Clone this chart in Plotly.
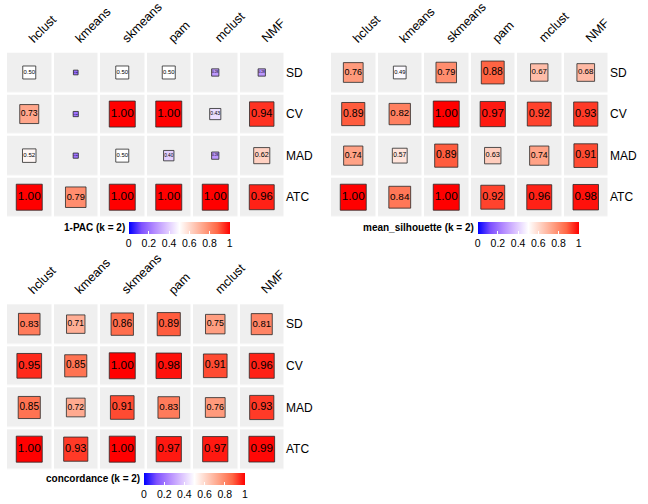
import plotly.graph_objects as go

methods = ["hclust", "kmeans", "skmeans", "pam", "mclust", "NMF"]
rows = ["SD", "CV", "MAD", "ATC"]

pac = [
    [0.50, 0.18, 0.50, 0.50, 0.28, 0.28],
    [0.73, 0.20, 1.00, 1.00, 0.43, 0.94],
    [0.52, 0.20, 0.50, 0.40, 0.28, 0.62],
    [1.00, 0.79, 1.00, 1.00, 1.00, 0.96],
]
silhouette = [
    [0.76, 0.49, 0.79, 0.88, 0.67, 0.68],
    [0.89, 0.82, 1.00, 0.97, 0.92, 0.93],
    [0.74, 0.57, 0.89, 0.63, 0.74, 0.91],
    [1.00, 0.84, 1.00, 0.92, 0.96, 0.98],
]
concordance = [
    [0.83, 0.71, 0.86, 0.89, 0.75, 0.81],
    [0.95, 0.85, 1.00, 0.98, 0.91, 0.96],
    [0.85, 0.72, 0.91, 0.83, 0.76, 0.93],
    [1.00, 0.93, 1.00, 0.97, 0.97, 0.99],
]
titles = ["1-PAC (k = 2)", "mean_silhouette (k = 2)", "concordance (k = 2)"]
cb_ticks = [0, 0.2, 0.4, 0.6, 0.8, 1]

W, H = 648, 504
FONT = "Liberation Sans, Arial, sans-serif"
# blue - white - red, interpolated in LAB space
colorscale = [
    [0.0, "rgb(0,0,255)"],
    [0.125, "rgb(126,81,255)"],
    [0.25, "rgb(179,138,255)"],
    [0.375, "rgb(220,196,255)"],
    [0.5, "rgb(255,255,255)"],
    [0.625, "rgb(255,207,191)"],
    [0.75, "rgb(255,158,129)"],
    [0.875, "rgb(255,104,70)"],
    [1.0, "rgb(255,0,0)"],
]

# panel geometry in pixels: (left, right, top, bottom, cbar_left, cbar_top)
panels = [
    (6, 285, 51.7, 218, 128.7, 221.7),
    (330, 609, 51.7, 218, 477.7, 221.7),
    (6, 285, 303.3, 470, 144, 472.7),
]

fig = go.Figure()
layout = {}
annotations = []
for i, (data, title, geo) in enumerate(zip([pac, silhouette, concordance], titles, panels)):
    l, r, t, b, cbl, cbt = geo
    sfx = "" if i == 0 else str(i + 1)
    xa, ya = "x" + sfx, "y" + sfx
    # background cells
    fig.add_trace(go.Heatmap(
        x=methods, y=rows, z=[[1] * len(methods) for _ in rows],
        colorscale=[[0, "#EFEFEF"], [1, "#EFEFEF"]], showscale=False,
        xgap=2.5, ygap=2.5, hoverinfo="skip", xaxis=xa, yaxis=ya,
    ))
    xs, ys, vs = [], [], []
    for ri, rname in enumerate(rows):
        for ci, m in enumerate(methods):
            xs.append(m)
            ys.append(rname)
            vs.append(data[ri][ci])
    fig.add_trace(go.Scatter(
        x=xs, y=ys, mode="markers+text",
        text=[f"{v:.2f}" for v in vs],
        textposition="middle center",
        textfont=dict(size=[max(11.8 * v, 1) for v in vs], color="black", family=FONT),
        marker=dict(
            symbol="square", size=[26 * v for v in vs], color=vs,
            cmin=0, cmax=1, colorscale=colorscale, opacity=1,
            line=dict(color="rgba(40,40,40,0.8)", width=1),
            showscale=True,
            colorbar=dict(
                orientation="h", x=cbl / W, xanchor="left",
                y=1 - cbt / H, yanchor="top", len=101, lenmode="pixels",
                thickness=12, thicknessmode="pixels", outlinewidth=0,
                tickvals=cb_ticks, ticktext=[f"{v:g}" for v in cb_ticks],
                ticks="inside", ticklen=3, tickcolor="white",
                tickfont=dict(size=10.5, color="black", family=FONT),
                xpad=0, ypad=0,
            ),
        ),
        hoverinfo="skip", showlegend=False, xaxis=xa, yaxis=ya,
    ))
    layout["xaxis" + sfx] = dict(
        domain=[l / W, r / W], anchor=ya, side="top", type="category",
        categoryorder="array", categoryarray=methods,
        range=[-0.5, 5.5], showgrid=False, zeroline=False,
        showline=False, ticks="", showticklabels=False,
    )
    layout["yaxis" + sfx] = dict(
        domain=[1 - b / H, 1 - t / H], anchor=xa, side="right", type="category",
        categoryorder="array", categoryarray=rows,
        range=[3.5, -0.5], showgrid=False, zeroline=False, showline=False,
        ticks="", tickfont=dict(size=12, color="black", family=FONT),
    )
    # rotated column labels, starting at each column centre
    for m in methods:
        annotations.append(dict(
            text=m, x=m, xref=xa, y=1 - (t - 3.5) / H, yref="paper",
            xanchor="left", yanchor="bottom", xshift=-6, textangle=-45,
            showarrow=False, font=dict(size=12.5, color="black", family=FONT),
        ))
    annotations.append(dict(
        text=f"<b>{title}</b>", x=(cbl - 2) / W, xanchor="right",
        y=1 - (cbt + 6) / H, yanchor="middle", xref="paper", yref="paper",
        showarrow=False, font=dict(size=10, color="black", family=FONT),
    ))

fig.update_layout(
    width=W, height=H, margin=dict(l=0, r=0, t=0, b=0),
    paper_bgcolor="white", plot_bgcolor="white",
    annotations=annotations, showlegend=False,
    font=dict(family=FONT),
    **layout,
)
fig.write_html(
    "out.html",
    config={"displayModeBar": False},
    post_script="document.body.style.margin='0px';",
)
